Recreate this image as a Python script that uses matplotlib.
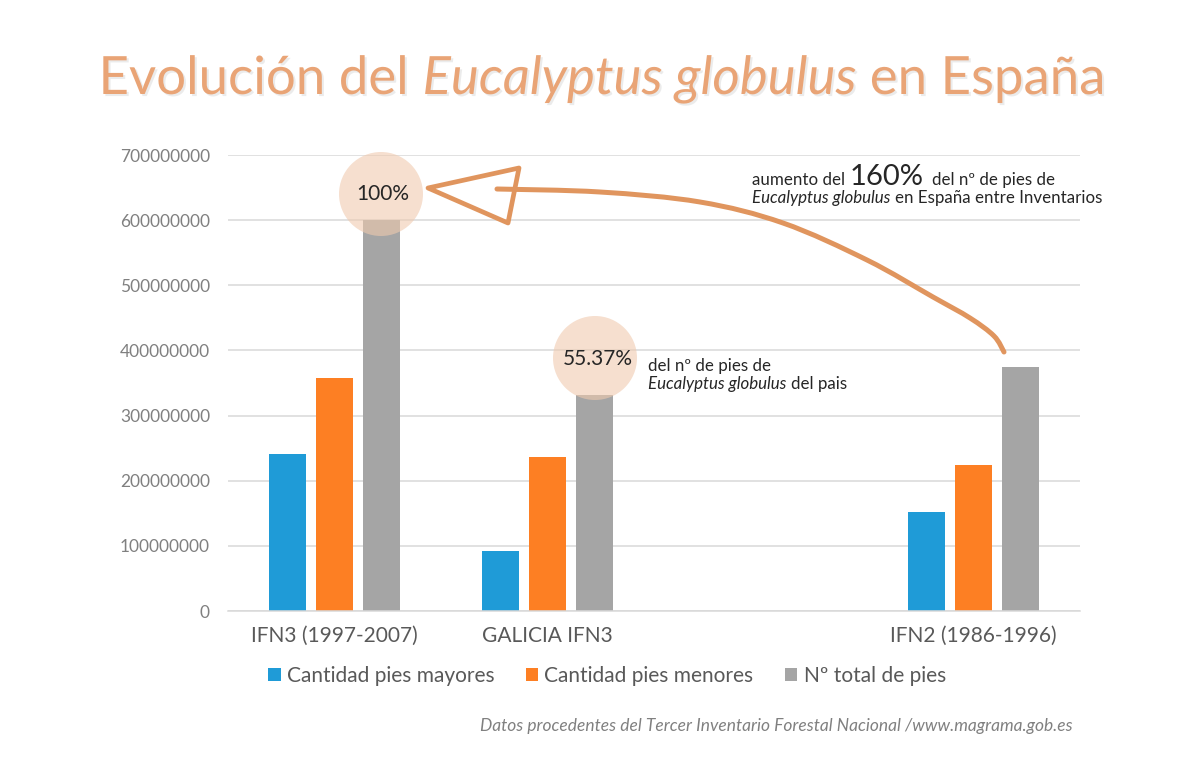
import numpy as np
import matplotlib
matplotlib.use("Agg")
import matplotlib.pyplot as plt
from matplotlib.patches import Circle, Polygon, PathPatch
from matplotlib.transforms import Affine2D
from matplotlib.path import Path
import matplotlib.patheffects as pe

plt.rcParams['font.family'] = ['Lato', 'DejaVu Sans']

# ---------------- data ----------------
categories = ["IFN3 (1997-2007)", "GALICIA IFN3", "", "IFN2 (1986-1996)"]
series_names = ["Cantidad pies mayores", "Cantidad pies menores", "Nº total de pies"]
pies_mayores = [241e6, 92e6, np.nan, 152e6]
pies_menores = [358e6, 236e6, np.nan, 224e6]
pies_total = [600e6, 332e6, np.nan, 375e6]
series_values = [pies_mayores, pies_menores, pies_total]
colors = ["#1f9bd7", "#fd7f23", "#a5a5a5"]
yticks = [0, 100000000, 200000000, 300000000, 400000000, 500000000, 600000000, 700000000]

W, H = 1200, 771
fig = plt.figure(figsize=(W / 100, H / 100), dpi=100)
fig.patch.set_facecolor("white")
ax = fig.add_axes([228 / W, 1 - 611 / H, (1080 - 228) / W, (611 - 155) / H])

x = np.arange(len(categories))
bw = 0.174
step = 0.221
for i, (vals, col, name) in enumerate(zip(series_values, colors, series_names)):
    ax.bar(x + (i - 1) * step, vals, width=bw, color=col, label=name, zorder=2)

ax.set_xlim(-0.5, len(categories) - 0.5)
ax.set_ylim(0, 700e6)
ax.set_yticks(yticks)
ax.set_yticklabels([str(v) for v in yticks])
ax.set_xticks(x)
ax.set_xticklabels(categories)
ax.yaxis.grid(True, color="#d9d9d9", linewidth=1.1, zorder=0)
ax.set_axisbelow(True)
for s in ["top", "right", "left"]:
    ax.spines[s].set_visible(False)
ax.spines["bottom"].set_color("#d9d9d9")
ax.spines["bottom"].set_linewidth(1.1)
ax.tick_params(axis="both", length=0)
ax.tick_params(axis="y", labelsize=12.5, labelcolor="#808080", pad=13)
ax.tick_params(axis="x", labelsize=15, labelcolor="#595959", pad=11)

leg = fig.legend(loc="center", bbox_to_anchor=(607 / W, 1 - 676 / H), ncol=3,
                 frameon=False, fontsize=15, handlelength=0.6, handleheight=0.6,
                 handletextpad=0.3, columnspacing=1.5)
for t in leg.get_texts():
    t.set_color("#595959")

# pixel-space transform (origin top-left)
pix = Affine2D().scale(1 / W, -1 / H).translate(0, 1) + fig.transFigure
renderer = fig.canvas.get_renderer()


def text_width(s, **kw):
    t = fig.text(0, 0, s, **kw)
    w = t.get_window_extent(renderer).width
    t.remove()
    return w


def draw_runs(x0, y0, runs, ha="left"):
    widths = []
    for s, kw in runs:
        lead = len(s) - len(s.lstrip(" "))
        trail = len(s) - len(s.rstrip(" "))
        core = s.strip(" ")
        sp = text_width("x x", **kw) - text_width("xx", **kw)
        widths.append((lead * sp, text_width(core, **kw) if core else 0, trail * sp, core))
    total = sum(a + b + c for a, b, c, _ in widths)
    xc = x0 - total if ha == "right" else (x0 - total / 2 if ha == "center" else x0)
    for (a, b, c, core), (s, kw) in zip(widths, runs):
        xc += a
        if core:
            fig.text(xc, y0, core, transform=pix, va="baseline", ha="left", **kw)
        xc += b + c


# title
title_col = "#e9a476"
tkw = dict(fontsize=38, color=title_col,
           path_effects=[pe.withSimplePatchShadow(offset=(1.5, -1.5), shadow_rgbFace="#c8c8c8", alpha=0.35)])
draw_runs(602, 94, [("Evolución del ", tkw),
                    ("Eucalyptus globulus", dict(tkw, style="italic")),
                    (" en España", tkw)], ha="center")

# circles
peach = "#f0caaf"
fig.add_artist(Circle((381, 194), 42, transform=pix, facecolor=peach, alpha=0.6,
                      edgecolor="none", zorder=5))
fig.add_artist(Circle((595, 358), 42, transform=pix, facecolor=peach, alpha=0.6,
                      edgecolor="none", zorder=5))
fig.text(383, 200, "100%", transform=pix, ha="center", va="baseline", fontsize=15,
         color="#262626", zorder=6)
fig.text(598, 365, "55.37%", transform=pix, ha="center", va="baseline", fontsize=15,
         color="#262626", zorder=6)

# annotations
akw = dict(fontsize=12.2, color="#262626")
draw_runs(648, 371, [("del nº de pies de", akw)])
draw_runs(648, 389, [("Eucalyptus globulus", dict(akw, style="italic")), (" del pais", akw)])
draw_runs(752, 185, [("aumento del ", akw), ("160%", dict(akw, fontsize=21)),
                     ("  del nº de pies de", akw)])
draw_runs(752, 203, [("Eucalyptus globulus", dict(akw, style="italic")),
                     (" en España entre Inventarios", akw)])

# hand-drawn arrow (smooth curve through traced points)
arrow_col = "#e0955e"
shaft = np.array([(1004, 352), (994, 336), (970, 318), (933, 297), (867, 260), (783, 223),
                  (700, 202), (600, 192), (497, 189)], dtype=float)
verts = [shaft[0]]
codes = [Path.MOVETO]
n = len(shaft)
for i in range(n - 1):
    p0 = shaft[max(i - 1, 0)]
    p1 = shaft[i]
    p2 = shaft[i + 1]
    p3 = shaft[min(i + 2, n - 1)]
    c1 = p1 + (p2 - p0) / 6
    c2 = p2 - (p3 - p1) / 6
    verts += [c1, c2, p2]
    codes += [Path.CURVE4] * 3
fig.add_artist(PathPatch(Path(verts, codes), transform=pix, facecolor="none",
                         edgecolor=arrow_col, linewidth=3.6, capstyle="round",
                         joinstyle="round", zorder=7))
head = [(428, 188), (519, 168), (508, 223)]
fig.add_artist(Polygon(head, closed=True, transform=pix, facecolor="none",
                       edgecolor=arrow_col, linewidth=3.4, joinstyle="round", zorder=7))

# footer
draw_runs(1073, 731, [("Datos procedentes del Tercer Inventario Forestal Nacional /www.magrama.gob.es",
                       dict(fontsize=12.5, color="#808080", style="italic"))],
          ha="right")

fig.savefig("out.png", dpi=100, facecolor="white")
